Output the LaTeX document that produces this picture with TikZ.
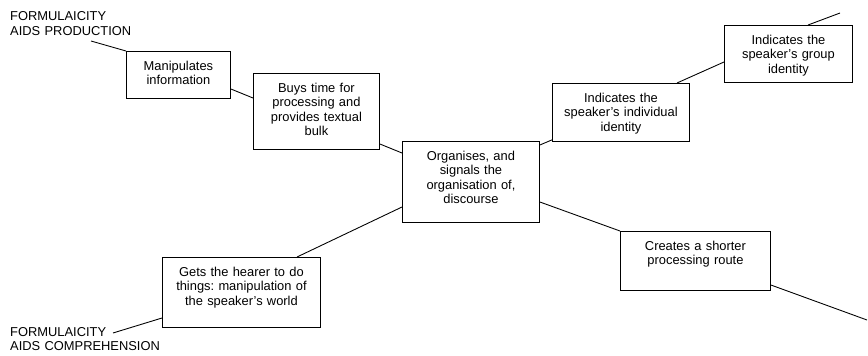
\documentclass[tikz,border=0pt]{standalone}
\usepackage{fontspec}
\setmainfont{Liberation Sans}
\frenchspacing

\tikzset{
  idea/.style={draw, line width=0.75pt, anchor=north west, inner sep=0pt,
    align=center, text height=0.57cm, font=\fontsize{11}{12.3}\selectfont},
  tag/.style={anchor=base west, inner sep=0pt, text width=4.5cm, align=left,
    font=\fontsize{11}{12.8}\selectfont},
  link/.style={line width=0.75pt},
}

\begin{document}
\begin{tikzpicture}[x=1cm, y=1cm]

  \useasboundingbox (0,0) rectangle (26.04,10.65);

  % ---------------------------------------------------------------- the two poles
  \node[tag] (prod) at (0.30,10.02) {FORMULAICITY\\ AIDS PRODUCTION};
  \node[tag] (comp) at (0.30,0.57)  {FORMULAICITY\\ AIDS COMPREHENSION};

  % ---------------------------------------------------------------- functions
  % Boxes are placed by their top-left corner; text sits at the top.
  \node[idea, text width=3.12cm, text depth=0.84cm] (manip) at (3.78,9.12)
    {Manipulates\\ information};
  \node[idea, text width=3.78cm, text depth=1.71cm] (buys) at (7.59,8.46)
    {Buys time for\\ processing and\\ provides textual\\ bulk};
  \node[idea, text width=4.11cm, text depth=1.86cm] (org) at (12.06,6.42)
    {Organises, and\\ signals the\\ organisation of,\\ discourse};
  \node[idea, text width=4.11cm, text depth=1.17cm] (indiv) at (16.56,8.16)
    {Indicates the\\ speaker's individual\\ identity};
  \node[idea, text width=3.84cm, text depth=1.14cm] (group) at (21.72,9.90)
    {Indicates the\\ speaker's group\\ identity};
  \node[idea, text width=4.74cm, text depth=1.53cm] (gets) at (4.86,2.94)
    {Gets the hearer to do\\ things: manipulation of\\ the speaker's world};
  \node[idea, text width=4.50cm, text depth=1.20cm] (creates) at (18.60,3.72)
    {Creates a shorter\\ processing route};

  % free ends of the outer strokes
  \coordinate (prodend)    at (2.73,9.42);
  \coordinate (compend)    at (3.39,0.66);
  \coordinate (groupend)   at (25.20,10.26);
  \coordinate (createsend) at (26.01,1.05);

  % ---------------------------------------------------------------- connectors
  \draw[link] (prodend) -- (manip.north west);
  \draw[link] ([yshift=-1.14cm]manip.north east) -- ([yshift=-0.75cm]buys.north west);
  \draw[link] ([yshift=-2.13cm]buys.north east) -- ([yshift=-0.36cm]org.north west);
  \draw[link] ([yshift=-1.98cm]org.north west) -- ([xshift=4.05cm]gets.north west);
  \draw[link] ([yshift=-1.83cm]gets.north west) -- (compend);
  \draw[link] ([yshift=-0.12cm]org.north east) -- ([yshift=0.06cm]indiv.south west);
  \draw[link] ([xshift=3.75cm]indiv.north west) -- ([yshift=-1.11cm]group.north west);
  \draw[link] ([xshift=2.52cm]group.north west) -- (groupend);
  \draw[link] ([yshift=-1.83cm]org.north east) -- (creates.north west);
  \draw[link] ([yshift=-1.62cm]creates.north east) -- (createsend);

\end{tikzpicture}
\end{document}
